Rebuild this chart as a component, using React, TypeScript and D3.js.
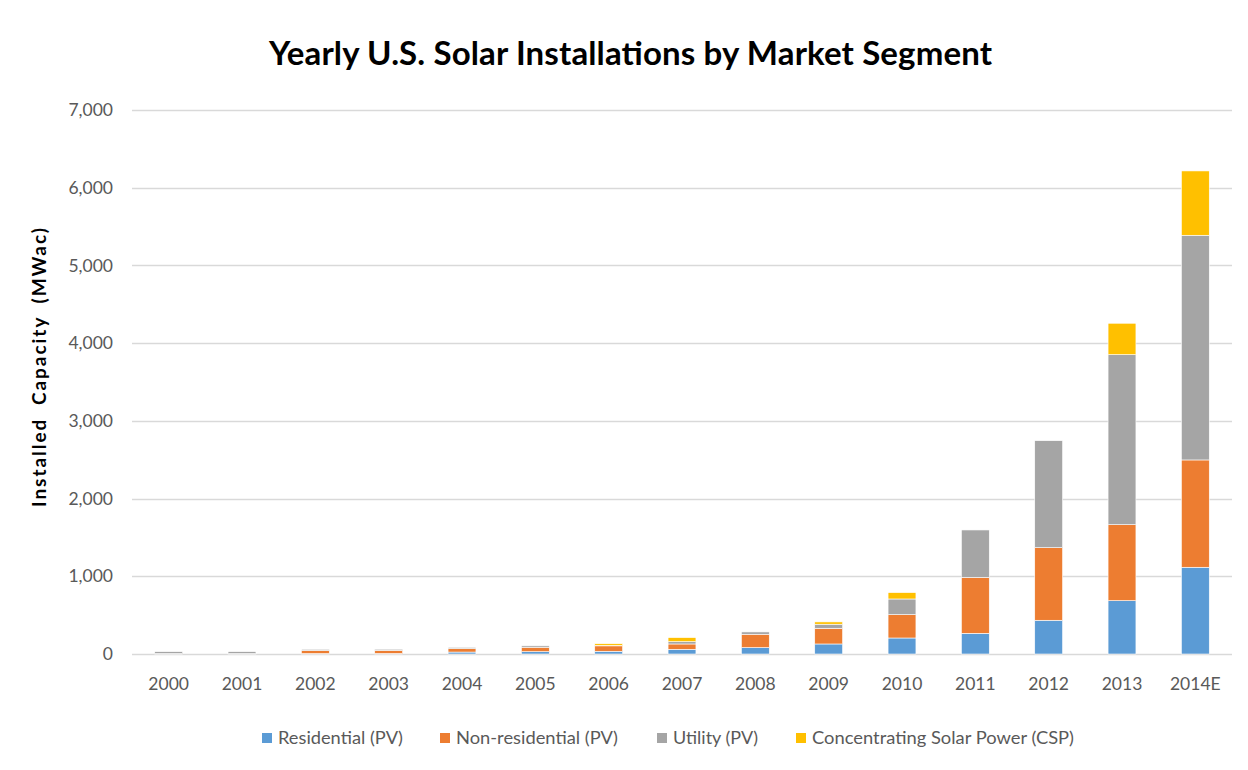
import React, { useEffect, useRef } from "react";
import * as d3 from "d3";

const years = ["2000", "2001", "2002", "2003", "2004", "2005", "2006", "2007", "2008", "2009", "2010", "2011", "2012", "2013", "2014E"];
const residential = [2, 2, 5, 6, 25, 30, 35, 60, 82, 129, 206, 266, 434, 686, 1116];
const nonResidential = [3, 3, 40, 40, 45, 57, 70, 69, 172, 202, 300, 719, 934, 978, 1381];
const utility = [25, 25, 15, 15, 15, 18, 5, 30, 30, 52, 202, 611, 1377, 2188, 2891];
const csp = [0, 0, 0, 0, 0, 0, 22, 52, 0, 30, 82, 0, 0, 404, 828];

const seriesKeys = ["res", "nonres", "util", "csp"];
const seriesNames = ["Residential (PV)", "Non-residential (PV)", "Utility (PV)", "Concentrating Solar Power (CSP)"];
const seriesColors = ["#5B9BD5", "#ED7D31", "#A5A5A5", "#FFC000"];
const yTicks = [0, 1000, 2000, 3000, 4000, 5000, 6000, 7000];

const FONT = "Lato, 'Open Sans', sans-serif";

function App() {
  const ref = useRef<SVGSVGElement>(null);

  useEffect(() => {
    const width = 1248;
    const height = 770;
    const left = 132;
    const right = 1232;
    const top = 110;
    const bottom = 654;

    const svg = d3.select(ref.current);
    svg.selectAll("*").remove();

    svg.append("rect").attr("width", width).attr("height", height).attr("fill", "#fff");
    // chart frame
    svg
      .append("rect")
      .attr("x", 7.5)
      .attr("y", 7.5)
      .attr("width", width - 12)
      .attr("height", height - 12)
      .attr("fill", "none")
      .attr("stroke", "#d9d9d9");

    const table = years.map((y, i) => ({
      year: y,
      res: residential[i],
      nonres: nonResidential[i],
      util: utility[i],
      csp: csp[i],
    }));

    const x = d3.scaleBand().domain(years).range([left, right]).paddingInner(0.62).paddingOuter(0.31);
    const y = d3.scaleLinear().domain([0, 7000]).range([bottom, top]);

    // gridlines
    svg
      .append("g")
      .selectAll("line")
      .data(yTicks)
      .enter()
      .append("line")
      .attr("x1", left)
      .attr("x2", right)
      .attr("y1", (d) => Math.round(y(d)) + 0.5)
      .attr("y2", (d) => Math.round(y(d)) + 0.5)
      .attr("stroke", "#d9d9d9")
      .attr("stroke-width", 1.5);

    // y labels
    svg
      .append("g")
      .selectAll("text")
      .data(yTicks)
      .enter()
      .append("text")
      .attr("x", 113)
      .attr("y", (d) => y(d))
      .attr("dy", "0.35em")
      .attr("text-anchor", "end")
      .attr("font-family", FONT)
      .attr("font-size", 17.5)
      .attr("fill", "#595959")
      .text((d) => d3.format(",")(d));

    const stack = d3.stack<any>().keys(seriesKeys);
    const layers = stack(table);

    svg
      .append("g")
      .selectAll("g")
      .data(layers)
      .enter()
      .append("g")
      .attr("fill", (d, i) => seriesColors[i])
      .selectAll("rect")
      .data((d) => d)
      .enter()
      .append("rect")
      .attr("x", (d: any) => x(d.data.year)!)
      .attr("width", x.bandwidth())
      .attr("y", (d) => y(d[1]))
      .attr("height", (d) => Math.max(0, y(d[0]) - y(d[1])))
      .attr("stroke", "#fff")
      .attr("stroke-width", 0.6);

    // x labels
    svg
      .append("g")
      .selectAll("text")
      .data(years)
      .enter()
      .append("text")
      .attr("x", (d) => x(d)! + x.bandwidth() / 2)
      .attr("y", 684)
      .attr("dy", "0.35em")
      .attr("text-anchor", "middle")
      .attr("font-family", FONT)
      .attr("font-size", 17.5)
      .attr("fill", "#595959")
      .text((d) => d);

    // title
    svg
      .append("text")
      .attr("x", 269)
      .attr("y", 65)
      .attr("font-family", FONT)
      .attr("font-weight", "bold")
      .attr("font-size", 33)
      .attr("fill", "#000")
      .attr("textLength", 723)
      .attr("lengthAdjust", "spacing")
      .text("Yearly U.S. Solar Installations  by Market Segment");

    // y axis title
    svg
      .append("text")
      .attr("transform", "translate(39,507) rotate(-90)")
      .attr("dy", "0.35em")
      .attr("font-family", FONT)
      .attr("font-weight", "bold")
      .attr("font-size", 19)
      .attr("fill", "#000")
      .attr("word-spacing", 6)
      .attr("textLength", 279)
      .attr("lengthAdjust", "spacing")
      .text("Installed Capacity (MWac)");

    // legend
    const legendX = [262, 440, 657, 796];
    const legendW = [125, 162, 85, 262];
    const legend = svg
      .append("g")
      .selectAll("g")
      .data(seriesNames)
      .enter()
      .append("g")
      .attr("transform", (d, i) => `translate(${legendX[i]},733)`);
    legend
      .append("rect")
      .attr("width", 10)
      .attr("height", 10)
      .attr("fill", (d, i) => seriesColors[i]);
    legend
      .append("text")
      .attr("x", 16)
      .attr("y", 5)
      .attr("dy", "0.35em")
      .attr("font-family", FONT)
      .attr("font-size", 18)
      .attr("fill", "#595959")
      .attr("textLength", (d, i) => legendW[i])
      .attr("lengthAdjust", "spacingAndGlyphs")
      .text((d) => d);
  }, []);

  return <svg ref={ref} width={1248} height={770} style={{ display: "block", margin: -8 }} />;
}

export default App;
